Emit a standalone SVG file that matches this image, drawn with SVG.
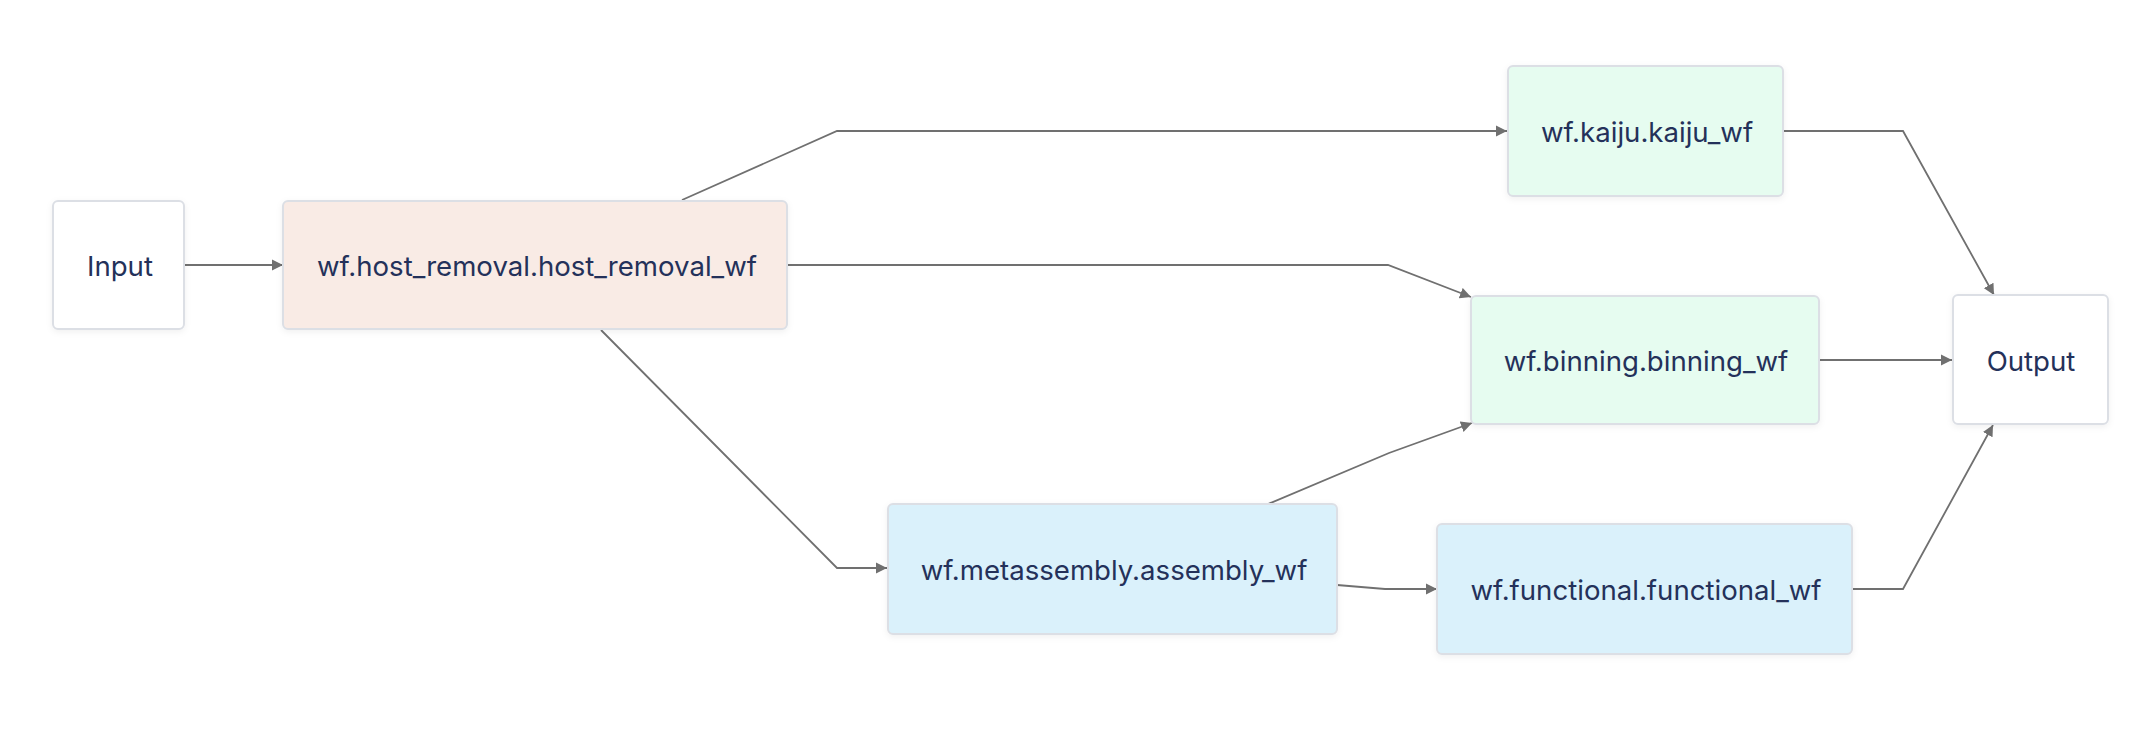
<svg xmlns="http://www.w3.org/2000/svg" width="2132" height="736" viewBox="0 0 2132 736">
  <defs>
    <style>
      .box { stroke: #dcdfe5; stroke-width: 2; filter: url(#sh); }
      .white { fill: #ffffff; }
      .peach { fill: #f9ebe5; }
      .green { fill: #e6fcf0; }
      .blue { fill: #daf1fb; }
      .lbl { font-family: Inter, "Liberation Sans", sans-serif; font-size: 27.6px; fill: #24315a; text-anchor: middle; dominant-baseline: central; }
      .edge { fill: none; stroke: #707070; stroke-width: 1.8; marker-end: url(#arr); }
    </style>
    <marker id="arr" markerUnits="userSpaceOnUse" markerWidth="12" markerHeight="12" viewBox="0 0 12 12" refX="11" refY="6" orient="auto">
      <path d="M0,0.5 L11,6 L0,11.5 z" fill="#707070"/>
    </marker>
    <filter id="sh" x="-10%" y="-20%" width="120%" height="140%">
      <feDropShadow dx="0" dy="2" stdDeviation="3" flood-color="#000000" flood-opacity="0.06"/>
    </filter>
  </defs>
  <rect width="2132" height="736" fill="#ffffff"/>
  <g id="connectors">
    <path class="edge" d="M184 265 L283 265"/>
    <path class="edge" d="M682 200 L837 131 L1507 131"/>
    <path class="edge" d="M787 265 L1388 265 L1471 297"/>
    <path class="edge" d="M601 330 L837 568 L887 568"/>
    <path class="edge" d="M1783 131 L1903 131 L1994 295"/>
    <path class="edge" d="M1819 360 L1952 360"/>
    <path class="edge" d="M1268 504 L1389 453 L1472 423"/>
    <path class="edge" d="M1337 585 L1385 589 L1437 589"/>
    <path class="edge" d="M1852 589 L1903 589 L1993 425"/>
  </g>
  <g id="input">
    <rect class="box white" x="53" y="201" width="131" height="128" rx="5"/>
    <text class="lbl" x="120" y="266">Input</text>
  </g>
  <g id="host_removal">
    <rect class="box peach" x="283" y="201" width="504" height="128" rx="5"/>
    <text class="lbl" x="537" y="266">wf.host_removal.host_removal_wf</text>
  </g>
  <g id="kaiju">
    <rect class="box green" x="1508" y="66" width="275" height="130" rx="5"/>
    <text class="lbl" x="1647" y="132">wf.kaiju.kaiju_wf</text>
  </g>
  <g id="binning">
    <rect class="box green" x="1471" y="296" width="348" height="128" rx="5"/>
    <text class="lbl" x="1646" y="361">wf.binning.binning_wf</text>
  </g>
  <g id="output">
    <rect class="box white" x="1953" y="295" width="155" height="129" rx="5"/>
    <text class="lbl" x="2031" y="361">Output</text>
  </g>
  <g id="metassembly">
    <rect class="box blue" x="888" y="504" width="449" height="130" rx="5"/>
    <text class="lbl" x="1114" y="570">wf.metassembly.assembly_wf</text>
  </g>
  <g id="functional">
    <rect class="box blue" x="1437" y="524" width="415" height="130" rx="5"/>
    <text class="lbl" x="1646" y="590">wf.functional.functional_wf</text>
  </g>
</svg>
